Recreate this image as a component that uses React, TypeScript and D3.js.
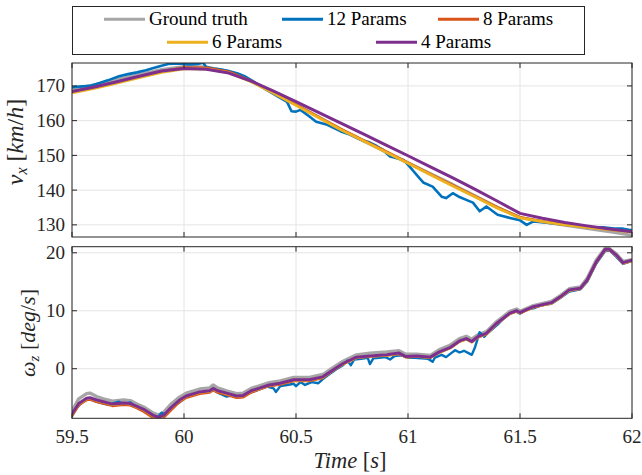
import React from "react";
import * as d3 from "d3";

// ---------- Data ----------
const xTicks = [59.5, 60, 60.5, 61, 61.5, 62];
const xTickLabels = ["59.5", "60", "60.5", "61", "61.5", "62"];
const vxTicks = [130, 140, 150, 160, 170];
const wzTicks = [0, 10, 20];

// Top panel: v_x [km/h]
const tTop = [59.5, 59.6, 59.7, 59.8, 59.9, 60.0, 60.1, 60.2, 60.3, 60.4, 60.5, 60.6, 60.7, 60.8, 60.9, 61.0, 61.1, 61.2, 61.3, 61.4, 61.5, 61.6, 61.7, 61.8, 61.9, 62.0];
const vxTruth = [169.0, 170.3, 171.8, 173.3, 174.7, 175.6, 175.4, 174.1, 171.4, 168.0, 164.6, 161.1, 157.5, 154.2, 151.0, 147.8, 144.7, 141.6, 138.3, 135.0, 132.1, 130.9, 129.9, 129.0, 128.0, 127.0];
const vx8 = [168.3, 169.6, 171.1, 172.7, 174.2, 175.3, 175.2, 174.1, 171.4, 168.1, 164.6, 161.1, 157.6, 154.4, 151.2, 147.9, 144.6, 141.4, 138.2, 135.0, 132.2, 131.0, 130.1, 129.4, 128.7, 128.0];
const vx6 = [168.0, 169.3, 170.8, 172.4, 173.9, 174.9, 174.9, 173.8, 171.2, 167.9, 164.4, 160.9, 157.4, 154.2, 151.0, 147.7, 144.4, 141.2, 138.0, 134.8, 132.0, 130.9, 130.0, 129.3, 128.6, 127.9];
const vx4 = [168.4, 169.7, 171.2, 172.8, 174.3, 175.0, 174.8, 173.7, 171.4, 168.5, 165.5, 162.4, 159.3, 156.2, 153.0, 149.9, 146.7, 143.5, 140.2, 136.8, 133.3, 131.9, 130.7, 129.7, 128.8, 128.0];

const tTop12 = [59.5, 59.53, 59.58, 59.62, 59.66, 59.71, 59.75, 59.79, 59.83, 59.86, 59.9, 59.93, 59.98, 60.02, 60.06, 60.085, 60.1, 60.13, 60.16, 60.2, 60.24, 60.27, 60.3, 60.34, 60.38, 60.42, 60.46, 60.48, 60.5, 60.52, 60.56, 60.59, 60.64, 60.7, 60.74, 60.79, 60.83, 60.86, 60.89, 60.92, 60.96, 60.98, 61.02, 61.05, 61.07, 61.11, 61.15, 61.17, 61.2, 61.23, 61.26, 61.29, 61.32, 61.35, 61.4, 61.455, 61.5, 61.53, 61.56, 61.62, 61.66, 61.72, 61.81, 61.87, 61.92, 61.96, 62.0];
const vx12 = [169.6, 169.8, 170.0, 170.8, 171.6, 172.8, 173.4, 173.9, 174.5, 175.1, 175.8, 176.3, 176.5, 176.2, 176.3, 176.7, 175.4, 175.0, 174.8, 174.3, 173.6, 172.8, 171.7, 170.0, 168.4, 166.9, 165.4, 162.7, 162.6, 163.1, 161.2, 159.7, 158.8, 156.9, 156.0, 154.5, 153.7, 152.7, 151.5, 149.7, 149.0, 148.7, 145.8, 143.5, 142.1, 141.0, 138.1, 137.7, 139.1, 138.0, 137.2, 136.4, 133.9, 135.3, 132.9, 132.0, 131.3, 130.0, 131.0, 130.6, 130.3, 129.9, 129.3, 129.3, 128.9, 128.9, 128.4];

// Bottom panel: omega_z [deg/s]
const tBot = [59.5, 59.53, 59.565, 59.58, 59.61, 59.64, 59.68, 59.73, 59.76, 59.79, 59.82, 59.86, 59.885, 59.91, 59.94, 59.98, 60.01, 60.07, 60.115, 60.13, 60.15, 60.19, 60.235, 60.265, 60.3, 60.34, 60.38, 60.43, 60.49, 60.56, 60.62, 60.665, 60.71, 60.77, 60.83, 60.905, 60.96, 60.99, 61.04, 61.1, 61.14, 61.19, 61.23, 61.26, 61.285, 61.31, 61.35, 61.395, 61.455, 61.485, 61.5, 61.56, 61.64, 61.68, 61.72, 61.77, 61.8, 61.84, 61.88, 61.9, 61.93, 61.96, 62.0];
const wzTruth = [-7.3, -5.2, -4.3, -4.2, -4.8, -5.2, -5.6, -5.4, -5.5, -6.1, -6.6, -7.6, -8.0, -7.5, -6.2, -4.9, -4.2, -3.5, -3.3, -2.8, -3.3, -3.8, -4.3, -4.2, -3.4, -2.9, -2.4, -2.1, -1.5, -1.5, -1.0, 0.2, 1.3, 2.4, 2.7, 2.9, 3.1, 2.5, 2.5, 2.3, 3.3, 4.1, 5.2, 5.6, 5.1, 5.8, 6.4, 8.1, 9.9, 10.3, 9.9, 10.9, 11.6, 12.6, 13.8, 14.1, 15.6, 18.7, 20.8, 20.7, 19.8, 18.5, 18.8];
const wz8 = [-8.1, -6.3, -5.4, -5.3, -5.7, -6.0, -6.4, -6.2, -6.3, -6.8, -7.4, -8.4, -8.8, -8.4, -7.2, -5.7, -5.0, -4.3, -4.1, -3.7, -4.1, -4.5, -5.0, -4.9, -4.1, -3.5, -3.0, -2.7, -2.1, -2.1, -1.6, -0.3, 0.8, 1.9, 2.1, 2.3, 2.6, 2.0, 2.1, 1.9, 2.8, 3.6, 4.7, 5.1, 4.6, 5.4, 6.0, 7.7, 9.5, 9.9, 9.6, 10.6, 11.3, 12.3, 13.5, 13.8, 15.2, 18.3, 20.5, 20.5, 19.5, 18.2, 18.6];
const wz6 = [-7.9, -6.1, -5.2, -5.1, -5.5, -5.8, -6.2, -6.0, -6.1, -6.6, -7.1, -8.1, -8.5, -8.1, -6.9, -5.5, -4.8, -4.1, -3.9, -3.5, -3.9, -4.3, -4.8, -4.7, -3.9, -3.4, -2.9, -2.6, -2.0, -2.0, -1.5, -0.3, 0.8, 1.9, 2.1, 2.3, 2.6, 2.0, 2.1, 1.9, 2.8, 3.6, 4.7, 5.1, 4.6, 5.4, 6.0, 7.7, 9.5, 9.9, 9.6, 10.6, 11.3, 12.3, 13.5, 13.8, 15.2, 18.3, 20.5, 20.5, 19.5, 18.2, 18.6];
const wz4 = [-7.8, -6.0, -5.1, -5.0, -5.4, -5.7, -6.1, -5.9, -6.0, -6.5, -7.0, -8.0, -8.4, -8.0, -6.8, -5.4, -4.7, -4.0, -3.8, -3.4, -3.8, -4.2, -4.7, -4.6, -3.8, -3.3, -2.8, -2.5, -1.9, -1.9, -1.4, -0.2, 0.9, 2.0, 2.2, 2.4, 2.7, 2.1, 2.2, 2.0, 2.9, 3.7, 4.8, 5.2, 4.7, 5.5, 6.1, 7.8, 9.6, 10.0, 9.7, 10.7, 11.4, 12.4, 13.6, 13.9, 15.3, 18.4, 20.6, 20.6, 19.6, 18.3, 18.7];

const tBot12 = [59.5, 59.52, 59.55, 59.58, 59.61, 59.64, 59.66, 59.69, 59.71, 59.73, 59.76, 59.79, 59.82, 59.84, 59.86, 59.885, 59.9, 59.92, 59.94, 59.96, 59.98, 60.01, 60.04, 60.07, 60.1, 60.13, 60.16, 60.19, 60.22, 60.25, 60.28, 60.3, 60.34, 60.37, 60.4, 60.41, 60.43, 60.46, 60.49, 60.5, 60.52, 60.54, 60.57, 60.6, 60.62, 60.65, 60.68, 60.71, 60.73, 60.745, 60.76, 60.79, 60.82, 60.83, 60.845, 60.87, 60.9, 60.92, 60.94, 60.97, 61.0, 61.03, 61.06, 61.09, 61.11, 61.12, 61.15, 61.17, 61.19, 61.21, 61.23, 61.25, 61.27, 61.285, 61.3, 61.32, 61.34, 61.36, 61.4, 61.44, 61.48, 61.5, 61.53, 61.56, 61.6, 61.64, 61.68, 61.72, 61.77, 61.8, 61.84, 61.88, 61.9, 61.93, 61.96, 62.0];
const wz12 = [-8.2, -6.8, -5.6, -5.2, -5.7, -6.0, -6.2, -5.9, -5.7, -6.1, -5.8, -6.7, -7.2, -7.6, -8.2, -8.3, -7.6, -7.9, -6.9, -6.2, -5.8, -4.9, -4.5, -4.2, -4.0, -3.6, -4.3, -4.8, -4.6, -4.9, -4.4, -4.1, -3.5, -3.1, -3.4, -4.0, -3.0, -2.8, -2.6, -3.0, -2.3, -2.8, -2.3, -2.5, -1.8, -0.9, -0.1, 0.6, 1.4, 0.6, 1.6, 1.7, 1.9, 0.8, 1.8, 1.9, 2.0, 1.6, 2.2, 2.3, 1.9, 1.9, 1.8, 1.7, 1.2, 1.9, 2.4, 2.0, 2.6, 3.2, 2.8, 3.1, 2.7, 2.4, 3.8, 6.3, 5.5, 6.3, 7.6, 9.2, 9.9, 9.5, 10.2, 10.4, 11.0, 11.2, 12.2, 13.3, 13.7, 15.0, 18.1, 20.3, 20.4, 19.3, 18.1, 18.6];

const seriesNames = ["Ground truth", "12 Params", "8 Params", "6 Params", "4 Params"];
const seriesColors = ["#a6a6a6", "#0072bd", "#d95319", "#edb120", "#7e2f8e"];

// ---------- Layout ----------
const W = 642;
const H = 475;
const X0 = 72;
const X1 = 632;
const TOP = { y0: 63, y1: 237, domain: [126.5, 176.6] };
const BOT = { y0: 246.7, y1: 418.3, domain: [-8.55, 21.05] };
const FONT = "Liberation Serif, DejaVu Serif, Times New Roman, serif";
const AX = "#262626";
const GRID = "#e4e4e4";
const fontStyle = { fontFamily: FONT };

const x = d3.scaleLinear().domain([59.5, 62]).range([X0, X1]);
const yTop = d3.scaleLinear().domain(TOP.domain).range([TOP.y1, TOP.y0]);
const yBot = d3.scaleLinear().domain(BOT.domain).range([BOT.y1, BOT.y0]);

function pathOf(ts: number[], vs: number[], y: d3.ScaleLinear<number, number>) {
  const line = d3
    .line<number>()
    .x((_, i) => x(ts[i]))
    .y((v) => y(v))
    .curve(d3.curveLinear);
  return line(vs) || "";
}

function Panel({
  id,
  y,
  y0,
  y1,
  yTicks,
  lines,
  showXLabels,
}: {
  id: string;
  y: d3.ScaleLinear<number, number>;
  y0: number;
  y1: number;
  yTicks: number[];
  lines: { t: number[]; v: number[]; color: string; w: number }[];
  showXLabels: boolean;
}) {
  const tl = 5;
  return (
    <g>
      <defs>
        <clipPath id={id}>
          <rect x={X0} y={y0} width={X1 - X0} height={y1 - y0} />
        </clipPath>
      </defs>
      <rect x={X0} y={y0} width={X1 - X0} height={y1 - y0} fill="#fff" />
      {xTicks.map((t) => (
        <line key={"gx" + t} x1={x(t)} x2={x(t)} y1={y0} y2={y1} stroke={GRID} strokeWidth={1} />
      ))}
      {yTicks.map((v) => (
        <line key={"gy" + v} x1={X0} x2={X1} y1={y(v)} y2={y(v)} stroke={GRID} strokeWidth={1} />
      ))}
      <g clipPath={`url(#${id})`}>
        {lines.map((l, i) => (
          <path
            key={i}
            d={pathOf(l.t, l.v, y)}
            fill="none"
            stroke={l.color}
            strokeWidth={l.w}
            strokeLinejoin="round"
            strokeLinecap="round"
          />
        ))}
      </g>
      {xTicks.map((t) => (
        <g key={"tx" + t}>
          <line x1={x(t)} x2={x(t)} y1={y1} y2={y1 - tl} stroke={AX} strokeWidth={1} />
          <line x1={x(t)} x2={x(t)} y1={y0} y2={y0 + tl} stroke={AX} strokeWidth={1} />
        </g>
      ))}
      {yTicks.map((v) => (
        <g key={"ty" + v}>
          <line x1={X0} x2={X0 + tl} y1={y(v)} y2={y(v)} stroke={AX} strokeWidth={1} />
          <line x1={X1} x2={X1 - tl} y1={y(v)} y2={y(v)} stroke={AX} strokeWidth={1} />
          <text
            x={X0 - 7}
            y={y(v)}
            textAnchor="end"
            dominantBaseline="central"
            style={fontStyle}
            fontSize={19}
            fill={AX}
          >
            {v}
          </text>
        </g>
      ))}
      <rect x={X0} y={y0} width={X1 - X0} height={y1 - y0} fill="none" stroke={AX} strokeWidth={1} />
      {showXLabels &&
        xTicks.map((t, i) => (
          <text
            key={"lx" + t}
            x={x(t)}
            y={y1 + 25}
            textAnchor="middle"
            style={fontStyle}
            fontSize={19}
            fill={AX}
          >
            {xTickLabels[i]}
          </text>
        ))}
    </g>
  );
}

export default function App() {
  const topLines = [
    { t: tTop, v: vxTruth, color: seriesColors[0], w: 3.2 },
    { t: tTop12, v: vx12, color: seriesColors[1], w: 2.6 },
    { t: tTop, v: vx8, color: seriesColors[2], w: 2.6 },
    { t: tTop, v: vx6, color: seriesColors[3], w: 2.8 },
    { t: tTop, v: vx4, color: seriesColors[4], w: 3 },
  ];
  const botLines = [
    { t: tBot, v: wzTruth, color: seriesColors[0], w: 3.4 },
    { t: tBot12, v: wz12, color: seriesColors[1], w: 2.4 },
    { t: tBot, v: wz8, color: seriesColors[2], w: 2.6 },
    { t: tBot, v: wz6, color: seriesColors[3], w: 2.6 },
    { t: tBot, v: wz4, color: seriesColors[4], w: 3 },
  ];

  const legendItems = [
    { i: 0, lx: 104, ly: 19.3 },
    { i: 1, lx: 282, ly: 19.3 },
    { i: 2, lx: 438, ly: 19.3 },
    { i: 3, lx: 167, ly: 42.3 },
    { i: 4, lx: 376, ly: 42.3 },
  ];

  return (
    <svg
      width={W}
      height={H}
      viewBox={`0 0 ${W} ${H}`}
      style={{ position: "absolute", left: 0, top: 0, background: "#fff" }}
    >
      <rect x={0} y={0} width={W} height={H} fill="#fff" />
      <Panel id="clipTop" y={yTop} y0={TOP.y0} y1={TOP.y1} yTicks={vxTicks} lines={topLines} showXLabels={false} />
      <Panel id="clipBot" y={yBot} y0={BOT.y0} y1={BOT.y1} yTicks={wzTicks} lines={botLines} showXLabels={true} />

      <text transform="translate(23,142) rotate(-90)" textAnchor="middle" style={fontStyle} fontSize={24} fill={AX}>
        <tspan fontStyle="italic">v</tspan>
        <tspan fontStyle="italic" fontSize={16} dy={4}>x</tspan>
        <tspan dy={-4}> [</tspan>
        <tspan fontStyle="italic">km</tspan>
        <tspan>/</tspan>
        <tspan fontStyle="italic">h</tspan>
        <tspan>]</tspan>
      </text>
      <text transform="translate(35,333) rotate(-90)" textAnchor="middle" style={fontStyle} fontSize={22} fill={AX}>
        <tspan fontStyle="italic">ω</tspan>
        <tspan fontStyle="italic" fontSize={15} dy={4}>z</tspan>
        <tspan dy={-4}> [</tspan>
        <tspan fontStyle="italic">deg</tspan>
        <tspan>/</tspan>
        <tspan fontStyle="italic">s</tspan>
        <tspan>]</tspan>
      </text>

      <text x={350} y={468} textAnchor="middle" style={fontStyle} fontSize={22.5} fill={AX}>
        <tspan fontStyle="italic">Time</tspan>
        <tspan> [</tspan>
        <tspan fontStyle="italic">s</tspan>
        <tspan>]</tspan>
      </text>

      <rect x={72.5} y={6.5} width={512} height={48} fill="#fff" stroke={AX} strokeWidth={1} />
      {legendItems.map(({ i, lx, ly }) => (
        <g key={i}>
          <line x1={lx} x2={lx + 41} y1={ly} y2={ly} stroke={seriesColors[i]} strokeWidth={3} />
          <text x={lx + 45} y={ly + 5.5} style={fontStyle} fontSize={19} fill="#000">
            {seriesNames[i]}
          </text>
        </g>
      ))}
    </svg>
  );
}
